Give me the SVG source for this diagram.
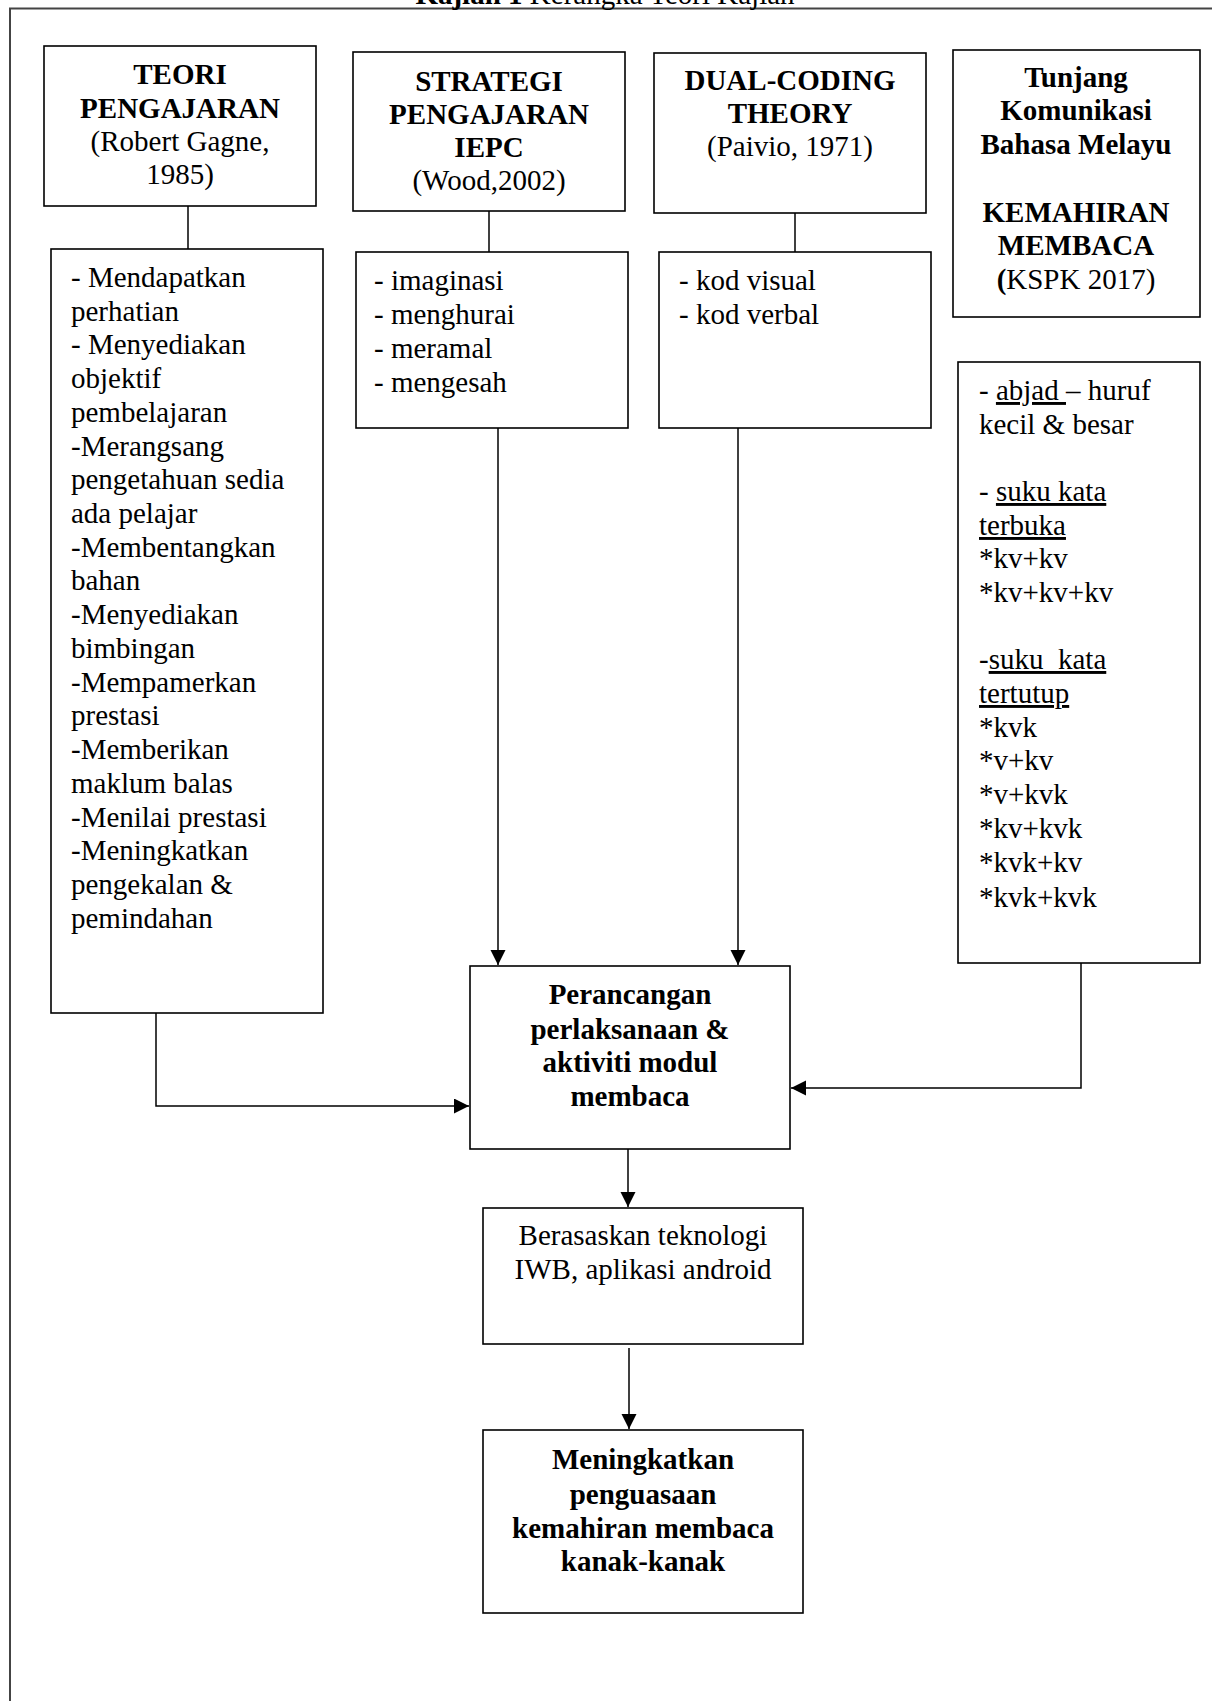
<svg xmlns="http://www.w3.org/2000/svg" width="1212" height="1701" viewBox="0 0 1212 1701">
<style>
text{font-family:"Liberation Serif","Times New Roman",serif;font-size:29px;fill:#000;white-space:pre}
.b{font-weight:bold}
.c{text-anchor:middle}
.box{fill:#fff;stroke:#000;stroke-width:1.6}
.ln{fill:none;stroke:#000;stroke-width:1.5}
.u{text-decoration:underline}
</style>
<defs>
<marker id="ah" markerUnits="userSpaceOnUse" markerWidth="16" markerHeight="16" refX="15" refY="7.5" orient="auto">
<path d="M0,0 L15,7.5 L0,15 z" fill="#000"/>
</marker>
</defs>
<rect width="1212" height="1701" fill="#fff"/>
<g id="frame">
<path d="M10,1701 L10,8.5 L1212,8.5" fill="none" stroke="#444" stroke-width="2"/>
<text x="605" y="4" class="c" font-size="26px"><tspan class="b">Kajian 1</tspan> Kerangka Teori Kajian</text>
</g>
<g id="connectors">
<line class="ln" x1="188" y1="206" x2="188" y2="249"/>
<line class="ln" x1="489" y1="211" x2="489" y2="252"/>
<line class="ln" x1="795" y1="213" x2="795" y2="252"/>
<line class="ln" x1="498" y1="428" x2="498" y2="965" marker-end="url(#ah)"/>
<line class="ln" x1="738" y1="428" x2="738" y2="965" marker-end="url(#ah)"/>
<polyline class="ln" points="156,1013 156,1106 469,1106" marker-end="url(#ah)"/>
<polyline class="ln" points="1081,963 1081,1088 791,1088" marker-end="url(#ah)"/>
<line class="ln" x1="628" y1="1149" x2="628" y2="1207" marker-end="url(#ah)"/>
<line class="ln" x1="629" y1="1348" x2="629" y2="1429" marker-end="url(#ah)"/>
</g>
<g id="teori">
<rect class="box" x="44" y="46" width="272" height="160"/>
<text class="c" x="180"><tspan class="b" x="180" y="84">TEORI</tspan><tspan class="b" x="180" y="118">PENGAJARAN</tspan><tspan x="180" y="151">(Robert Gagne,</tspan><tspan x="180" y="184">1985)</tspan></text>
</g>
<g id="teori-list">
<rect class="box" x="51" y="249" width="272" height="764"/>
<text x="71"><tspan x="71" y="287">- Mendapatkan</tspan><tspan x="71" y="321">perhatian</tspan><tspan x="71" y="354">- Menyediakan</tspan><tspan x="71" y="388">objektif</tspan><tspan x="71" y="422">pembelajaran</tspan><tspan x="71" y="456">-Merangsang</tspan><tspan x="71" y="489">pengetahuan sedia</tspan><tspan x="71" y="523">ada pelajar</tspan><tspan x="71" y="557">-Membentangkan</tspan><tspan x="71" y="590">bahan</tspan><tspan x="71" y="624">-Menyediakan</tspan><tspan x="71" y="658">bimbingan</tspan><tspan x="71" y="692">-Mempamerkan</tspan><tspan x="71" y="725">prestasi</tspan><tspan x="71" y="759">-Memberikan</tspan><tspan x="71" y="793">maklum balas</tspan><tspan x="71" y="827">-Menilai prestasi</tspan><tspan x="71" y="860">-Meningkatkan</tspan><tspan x="71" y="894">pengekalan &amp;</tspan><tspan x="71" y="928">pemindahan</tspan></text>
</g>
<g id="strategi">
<rect class="box" x="353" y="52" width="272" height="159"/>
<text class="c b" x="489"><tspan x="489" y="91">STRATEGI</tspan><tspan x="489" y="124">PENGAJARAN</tspan><tspan x="489" y="157">IEPC</tspan></text>
<text class="c" x="489" y="190">(Wood,2002)</text>
</g>
<g id="strategi-list">
<rect class="box" x="356" y="252" width="272" height="176"/>
<text x="374"><tspan x="374" y="290">- imaginasi</tspan><tspan x="374" y="324">- menghurai</tspan><tspan x="374" y="358">- meramal</tspan><tspan x="374" y="392">- mengesah</tspan></text>
</g>
<g id="dual">
<rect class="box" x="654" y="53" width="272" height="160"/>
<text class="c b" x="790"><tspan x="790" y="90">DUAL-CODING</tspan><tspan x="790" y="123">THEORY</tspan></text>
<text class="c" x="790" y="156">(Paivio, 1971)</text>
</g>
<g id="dual-list">
<rect class="box" x="659" y="252" width="272" height="176"/>
<text x="679"><tspan x="679" y="290">- kod visual</tspan><tspan x="679" y="324">- kod verbal</tspan></text>
</g>
<g id="tunjang">
<rect class="box" x="953" y="50" width="247" height="267"/>
<text class="c b" x="1076"><tspan x="1076" y="87">Tunjang</tspan><tspan x="1076" y="120">Komunikasi</tspan><tspan x="1076" y="154">Bahasa Melayu</tspan><tspan x="1076" y="222">KEMAHIRAN</tspan><tspan x="1076" y="255">MEMBACA</tspan></text>
<text class="c" x="1076" y="289"><tspan class="b">(</tspan>KSPK 2017)</text>
</g>
<g id="abjad-list">
<rect class="box" x="958" y="362" width="242" height="601"/>
<text x="979"><tspan x="979" y="400">- <tspan class="u">abjad </tspan>– huruf</tspan><tspan x="979" y="434">kecil &amp; besar</tspan><tspan x="979" y="501">- <tspan class="u">suku kata</tspan></tspan><tspan x="979" y="535" class="u">terbuka</tspan><tspan x="979" y="568">*kv+kv</tspan><tspan x="979" y="602">*kv+kv+kv</tspan><tspan x="979" y="669">-<tspan class="u">suku  kata</tspan></tspan><tspan x="979" y="703" class="u">tertutup</tspan><tspan x="979" y="737">*kvk</tspan><tspan x="979" y="770">*v+kv</tspan><tspan x="979" y="804">*v+kvk</tspan><tspan x="979" y="838">*kv+kvk</tspan><tspan x="979" y="872">*kvk+kv</tspan><tspan x="979" y="907">*kvk+kvk</tspan></text>
</g>
<g id="perancangan">
<rect class="box" x="470" y="966" width="320" height="183"/>
<text class="c b" x="630"><tspan x="630" y="1004">Perancangan</tspan><tspan x="630" y="1039">perlaksanaan &amp;</tspan><tspan x="630" y="1072">aktiviti modul</tspan><tspan x="630" y="1106">membaca</tspan></text>
</g>
<g id="berasaskan">
<rect class="box" x="483" y="1208" width="320" height="136"/>
<text class="c" x="643"><tspan x="643" y="1245">Berasaskan teknologi</tspan><tspan x="643" y="1279">IWB, aplikasi android</tspan></text>
</g>
<g id="meningkatkan">
<rect class="box" x="483" y="1430" width="320" height="183"/>
<text class="c b" x="643"><tspan x="643" y="1469">Meningkatkan</tspan><tspan x="643" y="1504">penguasaan</tspan><tspan x="643" y="1538">kemahiran membaca</tspan><tspan x="643" y="1571">kanak-kanak</tspan></text>
</g>
</svg>
